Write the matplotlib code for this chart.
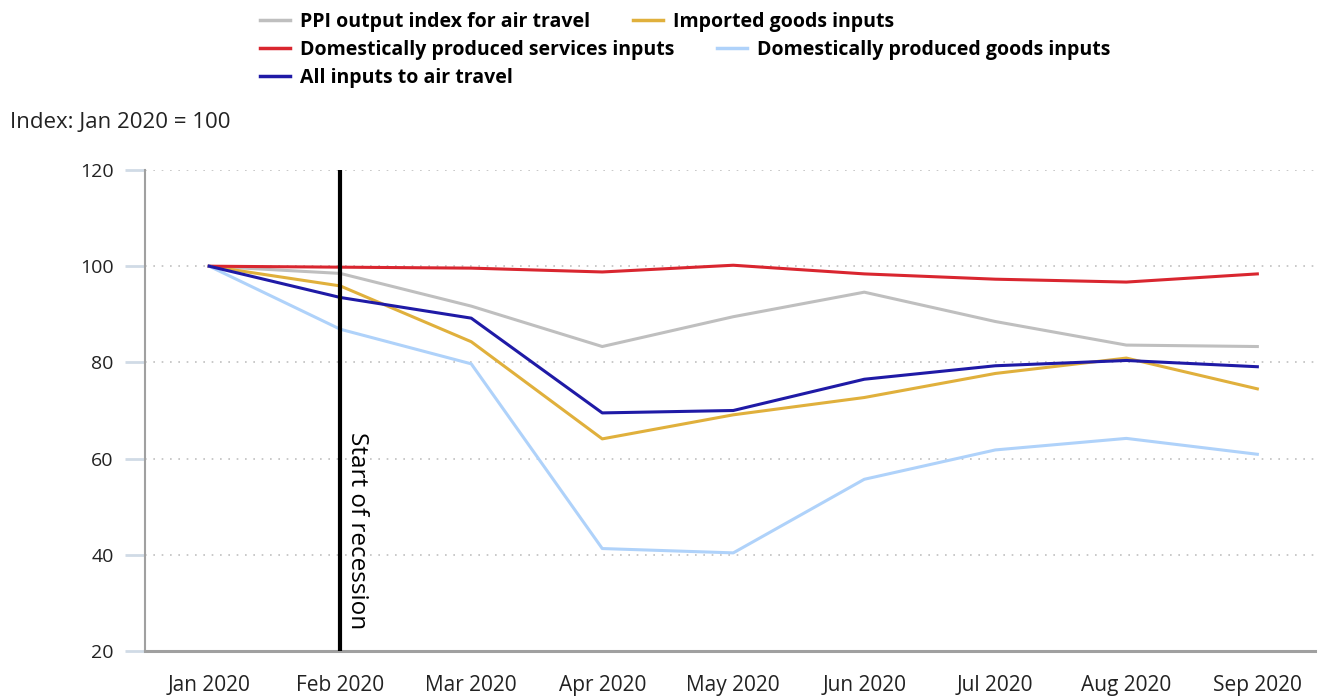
import matplotlib
matplotlib.use("Agg")
import matplotlib.pyplot as plt

months = ["Jan 2020", "Feb 2020", "Mar 2020", "Apr 2020", "May 2020",
          "Jun 2020", "Jul 2020", "Aug 2020", "Sep 2020"]
ppi_output = [100, 98.5, 91.7, 83.3, 89.5, 94.6, 88.5, 83.6, 83.3]
imported_goods = [100, 95.9, 84.3, 64.1, 69.1, 72.7, 77.7, 80.9, 74.5]
dom_services = [100, 99.8, 99.6, 98.8, 100.2, 98.4, 97.3, 96.7, 98.4]
dom_goods = [100, 86.9, 79.7, 41.3, 40.4, 55.7, 61.8, 64.2, 60.9]
all_inputs = [100, 93.5, 89.2, 69.5, 70.0, 76.5, 79.3, 80.4, 79.1]
yticks = [20, 40, 60, 80, 100, 120]
recession_month = "Feb 2020"

plt.rcParams['font.family'] = ['Open Sans', 'DejaVu Sans']

fig = plt.figure(figsize=(13.22, 6.96), dpi=100)
ax = fig.add_axes([145/1322, 1-651/696, (1315-145)/1322, (651-170)/696])

x = list(range(len(months)))
lw = 2.2
l_ppi, = ax.plot(x, ppi_output, color="#bfbfbf", lw=lw, label="PPI output index for air travel", zorder=3)
l_imp, = ax.plot(x, imported_goods, color="#e0b03c", lw=lw, label="Imported goods inputs", zorder=3)
l_ser, = ax.plot(x, dom_services, color="#d9262f", lw=lw, label="Domestically produced services inputs", zorder=3)
l_dg, = ax.plot(x, dom_goods, color="#afd2fa", lw=lw, label="Domestically produced goods inputs", zorder=3)
l_all, = ax.plot(x, all_inputs, color="#1f1aa6", lw=lw, label="All inputs to air travel", zorder=4)

rx = months.index(recession_month)
ax.axvline(rx, color="black", lw=3, zorder=5)
ax.text(rx + 0.035, 65.5, "Start of recession", rotation=-90, fontsize=17.5,
        ha="left", va="top", color="black")

ax.set_xlim(-0.49, 8.44)
ax.set_ylim(20, 120)
ax.set_yticks(yticks)
ax.set_xticks(x)
ax.set_xticklabels(months)
for g in yticks[1:]:
    ax.axhline(g, color="#c0c0c0", lw=1.2, ls=(0, (1, 4)), zorder=1)

ax.tick_params(axis="y", length=14.5, width=2, color="#d0dbe6", pad=8, labelsize=14, labelcolor="#222222")
ax.tick_params(axis="x", length=0, pad=17, labelsize=15, labelcolor="#222222")
for s in ["top", "right"]:
    ax.spines[s].set_visible(False)
ax.spines["left"].set_color("#a0a0a0")
ax.spines["left"].set_linewidth(1.5)
ax.spines["bottom"].set_color("#a0a0a0")
ax.spines["bottom"].set_linewidth(2.2)

leg_kw = dict(frameon=False, ncol=2, prop={"weight": "bold", "size": 14},
              handlelength=1.55, handletextpad=0.5, columnspacing=2.2,
              borderaxespad=0, borderpad=0, loc="center left")
rows = [([l_ppi, l_imp], 21.5), ([l_ser, l_dg], 49.5), ([l_all], 77.5)]
for hs, yp in rows:
    lg = fig.legend(handles=hs, bbox_to_anchor=(260/1322, 1-yp/696), **leg_kw)
    for line in lg.get_lines():
        line.set_linewidth(2.5)

fig.text(10/1322, 1-123/696, "Index: Jan 2020 = 100", fontsize=16, va="center", ha="left", color="#222222")

fig.savefig("out.png", dpi=100, facecolor="white")
